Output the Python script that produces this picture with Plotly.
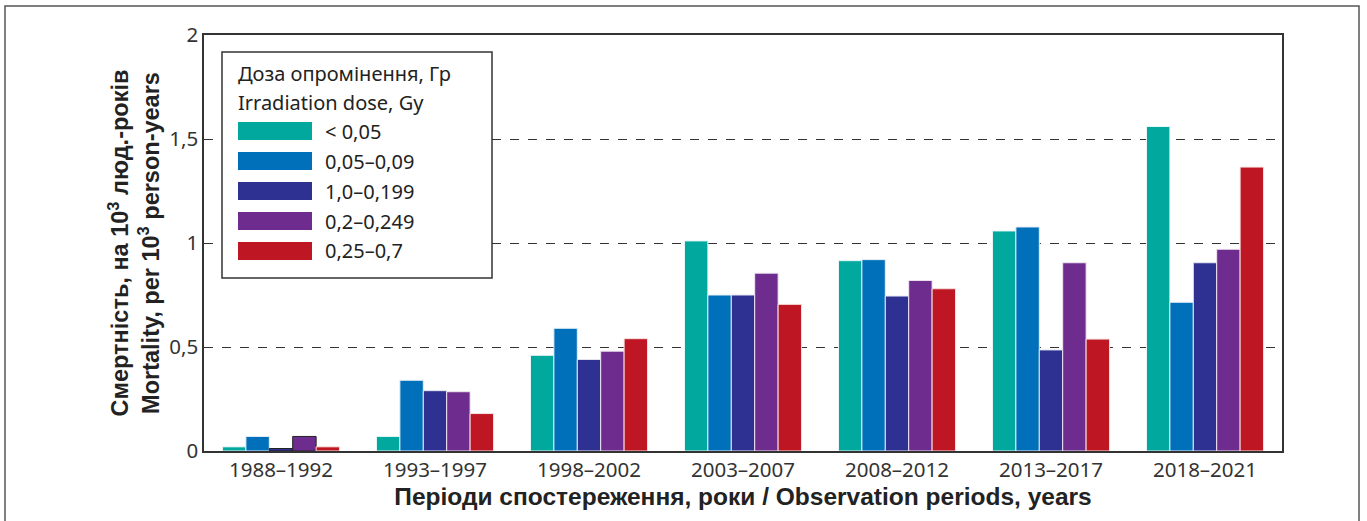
import plotly.graph_objects as go

periods = ["1988–1992", "1993–1997", "1998–2002", "2003–2007", "2008–2012", "2013–2017", "2018–2021"]
dose_groups = ["< 0,05", "0,05–0,09", "1,0–0,199", "0,2–0,249", "0,25–0,7"]
colors = ["#00A89D", "#0070BA", "#2E3192", "#6D2C8E", "#BE1622"]

v_lt005 = [0.02, 0.07, 0.46, 1.01, 0.915, 1.058, 1.56]
v_005_009 = [0.07, 0.34, 0.59, 0.75, 0.92, 1.077, 0.715]
v_01_0199 = [0.012, 0.29, 0.44, 0.75, 0.745, 0.486, 0.905]
v_02_0249 = [0.07, 0.285, 0.48, 0.855, 0.82, 0.905, 0.97]
v_025_07 = [0.02, 0.18, 0.54, 0.705, 0.78, 0.538, 1.365]
series = [v_lt005, v_005_009, v_01_0199, v_02_0249, v_025_07]

outline = [
    ["#e8f6f5"] * 7,
    ["#e6eef8"] * 7,
    ["#222222"] + ["#e6e6f0"] * 6,
    ["#222222"] + ["#eee6f0"] * 6,
    ["#f6e0e0"] * 7,
]

fig = go.Figure()
for name, vals, col, lc in zip(dose_groups, series, colors, outline):
    fig.add_trace(go.Bar(x=periods, y=vals, name=name, marker=dict(color=col, line=dict(color=lc, width=1)),
                         showlegend=False))

font_main = "Noto Sans, Open Sans, sans-serif"
font_bold = "Liberation Sans, Arial, sans-serif"

fig.update_layout(
    width=1367, height=521,
    margin=dict(l=204, r=85, t=35, b=70),
    paper_bgcolor="white", plot_bgcolor="white",
    barmode="group", bargap=0.24, bargroupgap=0,
    separators=",.",
    font=dict(family=font_main, color="#333333", size=20),
    xaxis=dict(showline=True, linecolor="#333333", linewidth=1.5, mirror=True, ticks="",
               tickfont=dict(size=20.5, color="#333333"),
               title=dict(text="<b>Періоди спостереження, роки / Observation periods, years</b>",
                          font=dict(family=font_bold, size=24.5, color="#222222"), standoff=3)),
    yaxis=dict(range=[0, 2], tickvals=[0, 0.5, 1, 1.5, 2], showline=True, linecolor="#333333", linewidth=1.5,
               mirror=True, showgrid=True, gridcolor="#333333", griddash="dash", gridwidth=1,
               zeroline=False, ticks="", tickfont=dict(size=20.5, color="#333333"),
               title=dict(text="<b>Смертність, на 10<sup>3</sup> люд.-років<br>Mortality, per 10<sup>3</sup> person-years</b>",
                          font=dict(family=font_bold, size=23.5, color="#222222"), standoff=3)),
)

W, H = 1078.0, 416.0
def px(x):
    return (x - 204) / W
def py(y):
    return (451 - y) / H

# outer frame
fig.add_shape(type="rect", xref="paper", yref="paper", x0=px(5), x1=px(1359), y0=py(530), y1=py(6),
              line=dict(color="#555555", width=1.5), fillcolor="rgba(0,0,0,0)", layer="below")

# custom legend box
fig.add_shape(type="rect", xref="paper", yref="paper", x0=px(222), x1=px(492), y0=py(278), y1=py(52),
              line=dict(color="#333333", width=1.5), fillcolor="white", layer="above")
fig.add_annotation(xref="paper", yref="paper", x=px(236), y=py(73), text="Доза опромінення, Гр",
                   showarrow=False, xanchor="left", yanchor="middle", font=dict(size=20, color="#222222"))
fig.add_annotation(xref="paper", yref="paper", x=px(236), y=py(103), text="Irradiation dose, Gy",
                   showarrow=False, xanchor="left", yanchor="middle", font=dict(size=20, color="#222222"))
centers = [131, 161, 191, 221, 251]
for name, col, cy in zip(dose_groups, colors, centers):
    fig.add_shape(type="rect", xref="paper", yref="paper", x0=px(238), x1=px(312), y0=py(cy + 9), y1=py(cy - 9),
                  line=dict(width=0), fillcolor=col, layer="above")
    fig.add_annotation(xref="paper", yref="paper", x=px(323), y=py(cy), text=name,
                       showarrow=False, xanchor="left", yanchor="middle", font=dict(size=20, color="#222222"))

fig.write_html("out.html", config={"displayModeBar": False},
               post_script="document.body.style.margin='0';document.body.style.padding='0';")
